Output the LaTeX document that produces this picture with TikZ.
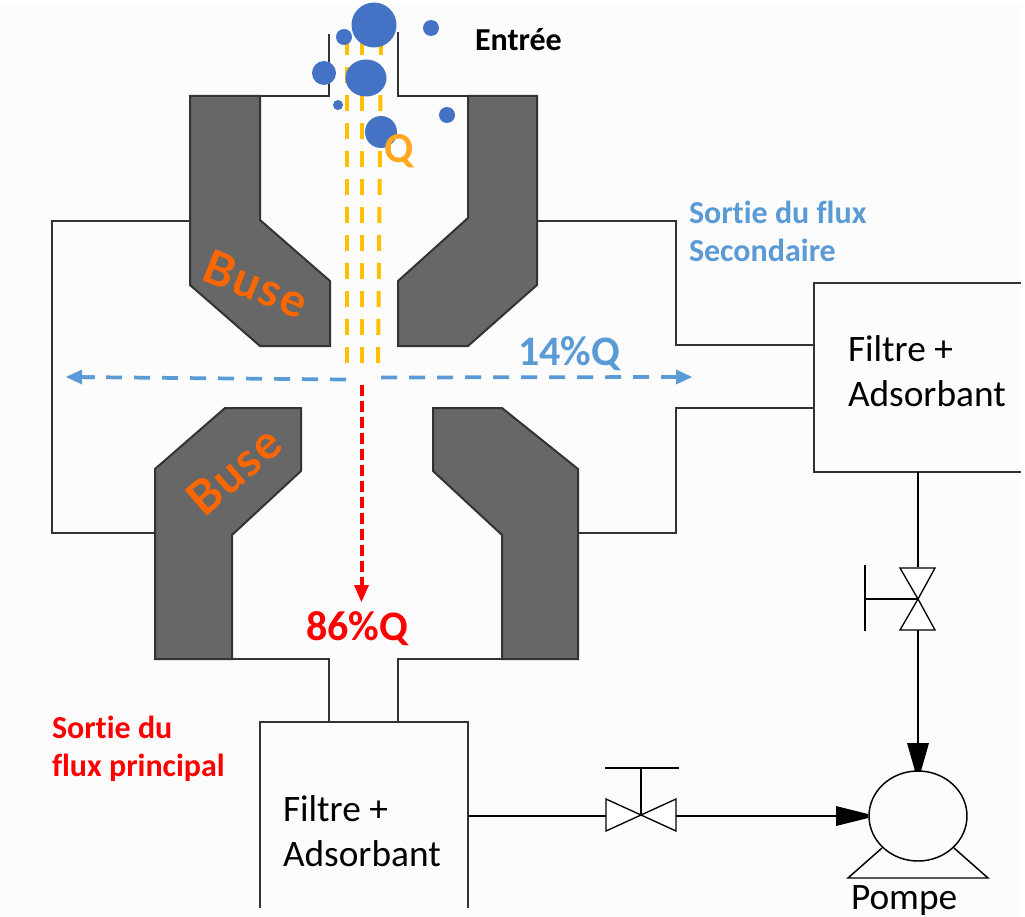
\documentclass[tikz,border=0pt]{standalone}
\usepackage{fontspec}
\setmainfont{Carlito}[Ligatures=NoCommon]
\newfontfamily\busefont{Lato}[LetterSpace=4]
\definecolor{bgc}{HTML}{FCFCFC}
\definecolor{linec}{HTML}{333333}
\definecolor{nozzle}{HTML}{666766}
\definecolor{dotc}{HTML}{4472C4}
\definecolor{flowy}{HTML}{FFC000}
\definecolor{flowb}{HTML}{5B9BD5}
\definecolor{flowq}{HTML}{FFA81F}
\definecolor{busec}{HTML}{FF6600}
\tikzset{
  pipe/.style={draw=linec,line width=1.3pt,line join=miter},
  nozzleshape/.style={draw=linec,fill=nozzle,line width=1.5pt,line join=miter},
  dot/.style={fill=dotc,draw=none},
  yflow/.style={draw=flowy,line width=3pt,dash pattern=on 12pt off 9pt},
  bflow/.style={draw=flowb,line width=2.8pt,dash pattern=on 12pt off 9pt},
  rflow/.style={draw=red,line width=3pt,dash pattern=on 8pt off 4pt},
  valve/.style={draw=black,line width=1pt,fill=white,line join=miter},
  wire/.style={draw=black,line width=1.1pt},
  headtip/.style={fill=black,draw=none},
  lab/.style={anchor=base west,inner sep=0pt,outer sep=0pt,font=\fontsize{28pt}{30pt}\selectfont},
  blab/.style={anchor=base west,inner sep=0pt,outer sep=0pt,font=\bfseries\fontsize{24pt}{26pt}\selectfont},
  bigbold/.style={anchor=base west,inner sep=0pt,font=\bfseries\fontsize{31.5pt}{33pt}\selectfont},
  buselab/.style={inner sep=0pt,text=busec,font=\busefont\bfseries\fontsize{35pt}{37pt}\selectfont}
}
\begin{document}
\begin{tikzpicture}[x=0.75pt,y=-0.75pt]
\useasboundingbox (0,0) rectangle (1025,917);
\fill[white] (0,0) rectangle (1025,917);
\fill[bgc] (0,5) rectangle (1021,917);
% casing
\draw[pipe] (329,34) -- (329,96) -- (190,96);
\draw[pipe] (398,32) -- (398,96) -- (537,96);
\draw[pipe] (190,221) -- (52,221) -- (52,533) -- (155,533);
\draw[pipe] (537,221) -- (676,221) -- (676,345) -- (814,345);
\draw[pipe] (578,533) -- (676,533) -- (676,408) -- (814,408);
\draw[pipe] (232,659) -- (329,659) -- (329,722);
\draw[pipe] (502,659) -- (398,659) -- (398,722);
% nozzles
\draw[nozzleshape] (190,96) -- (260,96) -- (260,220) -- (330,281) -- (330,346) -- (260,346) -- (190,285) -- cycle;
\draw[nozzleshape] (537,96) -- (468,96) -- (468,218) -- (398,281) -- (398,346) -- (468,346) -- (537,285) -- cycle;
\draw[nozzleshape] (155,469) -- (225,408) -- (301,408) -- (301,471) -- (232,535) -- (232,659) -- (155,659) -- cycle;
\draw[nozzleshape] (433,408) -- (502,408) -- (578,469) -- (578,659) -- (502,659) -- (502,535) -- (433,471) -- cycle;
% filter boxes
\draw[pipe] (1021,283) -- (814,283) -- (814,472) -- (1021,472);
\draw[pipe] (260,908) -- (260,722) -- (468,722) -- (468,908);
% flow lines
\draw[yflow] (347,39) -- (347,363);
\draw[yflow] (362,39) -- (362,363);
\draw[yflow] (381,39) -- (378,363);
\coordinate (bl) at (66,377);
\coordinate (bm) at (346,379.5);
\coordinate (bm2) at (381,377.5);
\coordinate (br) at (692,377);
\draw[bflow] (bm) -- (80,377.1);
\fill[flowb] (bl) -- (82,369.5) -- (82,384.5) -- cycle;
\draw[flowb,line width=2.8pt] (82,377.1) -- (95,377.2);
\draw[bflow] (bm2) -- (676,377);
\fill[flowb] (br) -- (676,369.5) -- (676,384.5) -- cycle;
\coordinate (rt) at (361.5,385);
\coordinate (rb) at (361.5,602);
\draw[rflow] (rt) -- (361.5,590);
\fill[red] (354,585) -- (369,585) -- (rb) -- cycle;
% particles
\foreach \cx/\cy/\r in {374/25/22.5,344/37/8,431/28/8,324/73/12,338/105/5,447/115/8,381/132/16}
  \fill[dot] (\cx,\cy) circle (\r);
\fill[dot] (366,78) ellipse (20.5 and 18.5);
% valve vertical
\coordinate (vv) at (918,599);
\draw[wire] (918,472) -- (918,567);
\draw[wire] (918,630) -- (918,771);
\draw[valve] (900,568) -- (935,568) -- (vv) -- cycle;
\draw[valve] (900,630) -- (935,630) -- (vv) -- cycle;
\draw[wire] (vv) -- (865,599);
\draw[wire] (865,565) -- (865,631);
\fill[headtip] (907,743) -- (929,743) -- (921,771) -- (915,771) -- cycle;
% valve horizontal
\coordinate (vh) at (641,815);
\draw[wire] (468,816) -- (606,816);
\draw[wire] (676,816) -- (868,816);
\draw[valve] (606,799) -- (606,831) -- (vh) -- cycle;
\draw[valve] (676,799) -- (676,831) -- (vh) -- cycle;
\draw[wire] (vh) -- (641,768);
\draw[wire] (605,768) -- (679,768);
\fill[headtip] (836,806) -- (836,826) -- (868,818) -- (868,814) -- cycle;
% pump
\draw[wire] (918,816) ellipse (49 and 45);
\draw[wire] (882,848) -- (848,878) -- (988,878) -- (954,848);
% labels
\node[lab] (pompe) at (851,909) {Pompe};
\node[lab] (f1a) at (848,361) {Filtre +};
\node[lab] (f1b) at (848,406) {Adsorbant};
\node[lab] (f2a) at (283,821) {Filtre +};
\node[lab] (f2b) at (283,866) {Adsorbant};
\node[blab,text=black] (ent) at (475,51) {Entrée};
\node[blab,text=flowb] (s1) at (689,223) {Sortie du flux};
\node[blab,text=flowb] (s2) at (689,261) {Secondaire};
\node[blab,text=red] (p1) at (52,738) {Sortie du};
\node[blab,text=red] (p2) at (52,776) {flux principal};
\node[bigbold,text=flowb] (q14) at (518,365) {14\%Q};
\node[bigbold,text=red] (q86) at (306,640) {86\%Q};
\node[anchor=base west,inner sep=0pt,text=flowq,font=\bfseries\fontsize{32pt}{34pt}\selectfont] (qq) at (384,162) {Q};
\node[buselab,rotate=-22] (b1) at (256,284) {Buse};
\node[buselab,rotate=41] (b2) at (234,471) {Buse};
\end{tikzpicture}
\end{document}
